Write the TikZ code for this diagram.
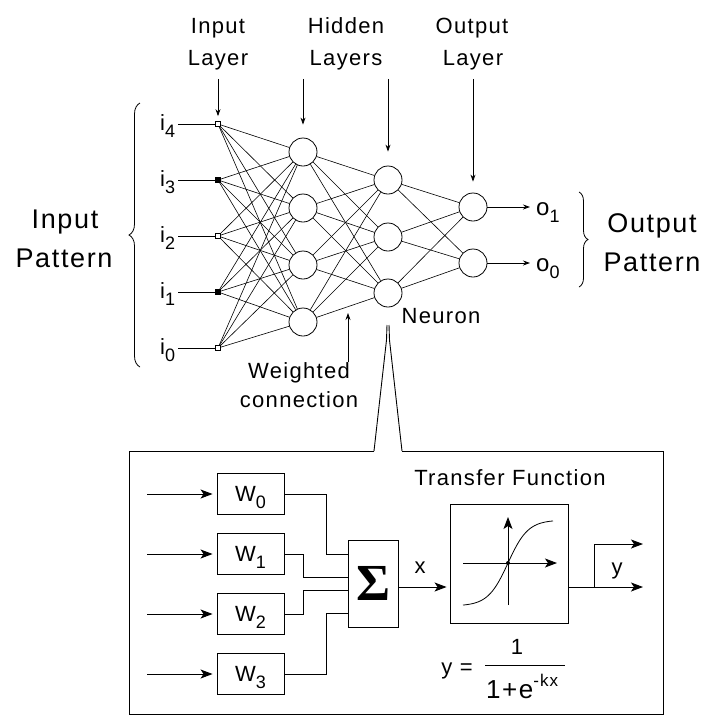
\documentclass[tikz,border=0pt]{standalone}
\usepackage{fontspec}
\setmainfont{Liberation Sans}[LetterSpace=6]
\newfontfamily\sigfont{Liberation Serif}
\usetikzlibrary{arrows.meta,decorations.pathreplacing,calc}
\newcommand{\sbs}[1]{\raisebox{-7pt}{\fontsize{18}{18}\selectfont #1}}
\begin{document}
\begin{tikzpicture}[x=1pt,y=-1pt,
  txt/.style={font=\fontsize{22}{30}\selectfont, inner sep=0pt, anchor=base},
  bigtxt/.style={font=\fontsize{27}{36}\selectfont, inner sep=0pt, anchor=base},
  neuron/.style={circle, draw, minimum size=28pt, inner sep=0pt, line width=0.8pt},
  inp/.style={draw, minimum size=5pt, inner sep=0pt, line width=0.7pt},
  inpf/.style={inp, fill=black},
  conn/.style={line width=0.6pt},
  ln/.style={line width=0.9pt},
  sarr/.style={line width=0.8pt, -{Stealth[length=7pt,width=5pt]}},
  barr/.style={line width=0.9pt, -{Stealth[length=12pt,width=9pt,inset=3pt]}},
  wbox/.style={draw, line width=0.9pt, minimum width=67pt, minimum height=41pt, inner sep=0pt, text depth=0pt, font=\fontsize{22}{30}\selectfont},
  brc/.style={line width=0.8pt, decorate},
]
\useasboundingbox (0,0) rectangle (701,716);

% headers
\node[txt] (hI1) at (218,33) {Input};
\node[txt] (hI2) at (218,65) {Layer};
\node[txt] (hH1) at (346,33) {Hidden};
\node[txt] (hH2) at (346,65) {Layers};
\node[txt] (hO1) at (472,33) {Output};
\node[txt] (hO2) at (473,65) {Layer};

% input layer
\foreach \k/\y/\s in {4/124/inp,3/180/inpf,2/236/inp,1/292/inpf,0/348/inp}{
  \node[\s] (in\k) at (218,\y) {};
  \node[txt, anchor=base west] (li\k) at (160,\y+6) {i\sbs{\k}};
  \draw[ln, shorten <=3pt] (li\k.east |- in\k) -- (in\k.west);
}
% hidden layers
\foreach \k/\y in {1/152,2/208,3/265,4/322} \node[neuron] (ha\k) at (303,\y) {};
\foreach \k/\y in {1/180,2/237,3/293} \node[neuron] (hb\k) at (388,\y) {};
\foreach \k/\y in {1/207,0/263} \node[neuron] (out\k) at (473,\y) {};

% connections
\foreach \i in {0,...,4} \foreach \j in {1,...,4} \draw[conn] (in\i) -- (ha\j);
\foreach \i in {1,...,4} \foreach \j in {1,...,3} \draw[conn] (ha\i) -- (hb\j);
\foreach \i in {1,...,3} \foreach \j in {0,1} \draw[conn] (hb\i) -- (out\j);

% header arrows
\draw[sarr, shorten <=9pt, shorten >=5pt] (hI2.south) -- (in4.north);
\draw[sarr, shorten <=9pt, shorten >=13pt] (hH2.south -| ha1) -- (ha1.north);
\draw[sarr, shorten <=9pt, shorten >=14pt] (hH2.south -| hb1) -- (hb1.north);
\draw[sarr, shorten <=9pt, shorten >=11pt] (hO2.south -| out1) -- (out1.north);

% outputs
\node[txt, anchor=base west, font=\fontsize{24}{30}\selectfont] (o1) at (536,215) {o\sbs{1}};
\node[txt, anchor=base west, font=\fontsize{24}{30}\selectfont] (o0) at (536,271) {o\sbs{0}};
\draw[sarr, shorten >=6pt] (out1.east) -- (out1.east -| o1.west);
\draw[sarr, shorten >=6pt] (out0.east) -- (out0.east -| o0.west);

% braces
\draw[brc, decoration={brace, amplitude=11pt}] (140,367) -- (140,103);
\draw[brc, decoration={brace, amplitude=9pt}] (579,192) -- (579,287);

\node[bigtxt] (ip1) at (65,228) {Input};
\node[bigtxt] (ip2) at (64,267) {Pattern};
\node[bigtxt] (op1) at (652,232) {Output};
\node[bigtxt] (op2) at (652,271) {Pattern};

\node[txt] (neu) at (441,323) {Neuron};
\node[txt] (wc1) at (299,378) {Weighted};
\node[txt] (wc2) at (299,407) {connection};
\coordinate (wtip) at (348,313);
\draw[sarr] (wc1.north -| wtip) -- (wtip);

% zoom box
\draw[ln] (374,451) -- (129,451) -- (129,714) -- (663,714) -- (663,451) -- (402,451);
\draw[ln] (374,451) -- (386.5,340) -- (387,325);
\draw[ln] (402,451) -- (389.5,340) -- (389,325);

% weights
\foreach \k/\y in {0/494,1/554,2/614,3/674}{
  \node[wbox] (w\k) at (250.5,\y) {W\sbs{\k}};
  \coordinate (a\k) at (147,\y);
  \draw[barr, shorten >=4pt] (a\k) -- (w\k.west);
}
\node[draw, ln, minimum width=50pt, minimum height=87pt, inner sep=0pt,
      font={\sigfont\bfseries\fontsize{52}{52}\selectfont}] (sig) at (373,583.5) {Σ};
\draw[ln] (w0.east) -- ++(42,0) |- ([yshift=29.5pt]sig.west);
\draw[ln] (w1.east) -- ++(19,0) |- ([yshift=6.5pt]sig.west);
\draw[ln] (w2.east) -- ++(19,0) |- ([yshift=-6.5pt]sig.west);
\draw[ln] (w3.east) -- ++(42,0) |- ([yshift=-29.5pt]sig.west);

% transfer function
\node[txt] (tft) at (510,485) {Transfer Function};
\node[draw, ln, minimum width=118pt, minimum height=119pt, inner sep=0pt] (tf) at (509,563.5) {};
\draw[barr] (508,605) -- (508,517);
\draw[barr] (463,563) -- (557,563);
\draw[line width=0.8pt] plot[domain=-45:45,samples=50] ({508+\x},{563-43*tanh(\x/20)});
\fill (508,563) circle (2pt);

\coordinate (xl) at (0,587);
\draw[barr, shorten >=3pt] (sig.east |- xl) -- (tf.west |- xl);
\node[txt] (xlab) at (420,573) {x};
\coordinate (yo1) at (643,587);
\coordinate (yo2) at (643,544);
\coordinate (br) at (594,587);
\draw[barr] (tf.east |- xl) -- (yo1);
\draw[barr] (br) |- (yo2);
\node[txt] (ylab) at (617,574) {y};

% formula
\node[txt] (feq) at (457,674) {y =};
\node[txt] (fnum) at (517,654) {1};
\draw[ln] (485,665) -- (565,665);
\node[txt, anchor=base west, font=\fontsize{26}{30}\selectfont] (fden) at (486,698) {1+e\raisebox{12pt}{\fontsize{17}{17}\selectfont -kx}};
\end{tikzpicture}
\end{document}
